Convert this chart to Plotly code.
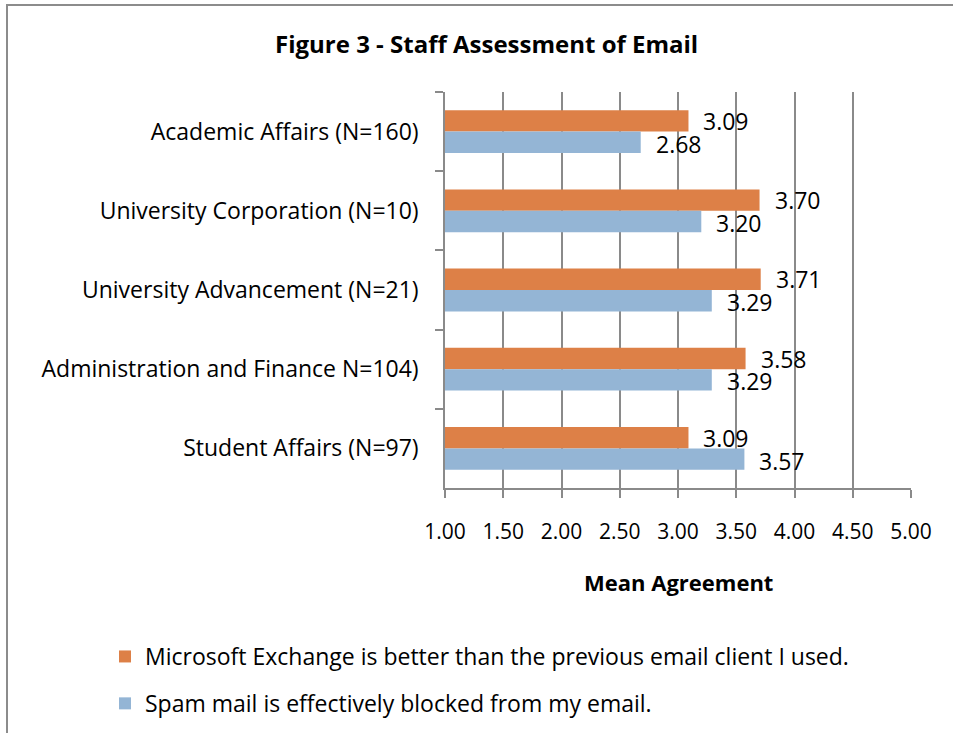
import plotly.graph_objects as go

categories = [
    "Academic Affairs (N=160)",
    "University Corporation (N=10)",
    "University Advancement (N=21)",
    "Administration and Finance N=104)",
    "Student Affairs (N=97)",
]
series_names = [
    "Microsoft Exchange is better than the previous email client I used.",
    "Spam mail is effectively blocked from my email.",
]
exchange_vals = [3.09, 3.70, 3.71, 3.58, 3.09]
spam_vals = [2.68, 3.20, 3.29, 3.29, 3.57]
x_ticks = [1.0, 1.5, 2.0, 2.5, 3.0, 3.5, 4.0, 4.5, 5.0]
x_tick_labels = ["1.00", "1.50", "2.00", "2.50", "3.00", "3.50", "4.00", "4.50", "5.00"]

ORANGE = "#DD8047"
BLUE = "#94B5D5"
FONT = "'Open Sans', Calibri, sans-serif"

W, H = 953, 733
L, R, T, B = 445, 953 - 911, 92, 733 - 488
pw, ph = W - L - R, H - T - B


def px_to_paper_x(px):
    return (px - L) / pw


def px_to_paper_y(py):
    return (H - B - py) / ph


fig = go.Figure()
fig.add_trace(go.Bar(
    y=categories, x=exchange_vals, orientation="h", name=series_names[0],
    marker=dict(color=ORANGE, line=dict(width=0)), legendgroup="a", base=0,
))
fig.add_trace(go.Bar(
    y=categories, x=spam_vals, orientation="h", name=series_names[1],
    marker=dict(color=BLUE, line=dict(width=0)), legendgroup="b", base=0,
))

annotations = []
bar_off = 0.135
for i, (a, b) in enumerate(zip(exchange_vals, spam_vals)):
    annotations.append(dict(x=a, y=i - bar_off, xref="x", yref="y", text=f"{a:.2f}",
                            showarrow=False, xanchor="left", yanchor="middle", xshift=13,
                            font=dict(family=FONT, size=23, color="#000")))
    annotations.append(dict(x=b, y=i + bar_off + 0.02, xref="x", yref="y", text=f"{b:.2f}",
                            showarrow=False, xanchor="left", yanchor="middle", xshift=13,
                            font=dict(family=FONT, size=23, color="#000")))

annotations.append(dict(x=px_to_paper_x(486), y=px_to_paper_y(43), xref="paper", yref="paper",
                        text="<b>Figure 3 - Staff Assessment of Email</b>", showarrow=False,
                        xanchor="center", yanchor="middle",
                        font=dict(family=FONT, size=24, color="#000")))
annotations.append(dict(x=0.5, y=px_to_paper_y(582), xref="paper", yref="paper",
                        text="<b>Mean Agreement</b>", showarrow=False,
                        xanchor="center", yanchor="middle",
                        font=dict(family=FONT, size=22, color="#000")))

shapes = [
    dict(type="line", xref="paper", yref="paper",
         x0=px_to_paper_x(6), x1=px_to_paper_x(1000), y0=px_to_paper_y(5), y1=px_to_paper_y(5),
         line=dict(color="#8C8C8C", width=2)),
    dict(type="line", xref="paper", yref="paper",
         x0=px_to_paper_x(7), x1=px_to_paper_x(7), y0=px_to_paper_y(5), y1=px_to_paper_y(760),
         line=dict(color="#8C8C8C", width=2)),
]

fig.update_layout(
    width=W, height=H,
    margin=dict(l=L, r=R, t=T, b=B, autoexpand=False),
    paper_bgcolor="white", plot_bgcolor="white",
    barmode="group", bargap=0.46, bargroupgap=0,
    font=dict(family=FONT, size=20, color="#000"),
    showlegend=True,
    legend=dict(x=px_to_paper_x(105), y=px_to_paper_y(635), xanchor="left", yanchor="top",
                orientation="v", traceorder="grouped", tracegroupgap=14,
                font=dict(family=FONT, size=23, color="#000"), bgcolor="rgba(0,0,0,0)"),
    annotations=annotations,
    shapes=shapes,
)
fig.update_xaxes(
    range=[1.0, 5.0], tickvals=x_ticks, ticktext=x_tick_labels,
    showgrid=True, gridcolor="#8A8A8A", gridwidth=1.5,
    showline=True, linecolor="#8A8A8A", linewidth=1.5,
    ticks="outside", ticklen=8, tickcolor="#8A8A8A", tickwidth=1.5,
    ticklabelstandoff=16, zeroline=False,
    tickfont=dict(family=FONT, size=21, color="#000"),
)
fig.update_yaxes(
    categoryorder="array", categoryarray=categories, autorange="reversed",
    showline=True, linecolor="#8A8A8A", linewidth=1.5,
    ticks="outside", ticklen=8, tickcolor="#8A8A8A", tickwidth=1.5,
    tickson="boundaries", showgrid=False, ticklabelstandoff=20,
    tickfont=dict(family=FONT, size=23, color="#000"),
)

fig.write_html(
    "out.html",
    config={"displayModeBar": False},
    post_script="document.body.style.margin='0';document.body.style.overflow='hidden';",
)
